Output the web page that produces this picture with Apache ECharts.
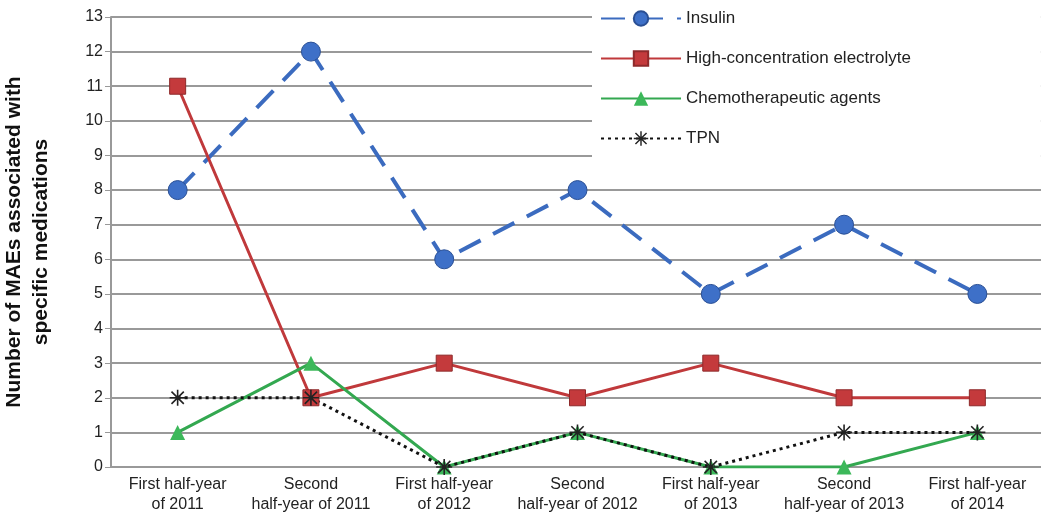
<!DOCTYPE html>
<html><head><meta charset="utf-8">
<script src="https://cdn.jsdelivr.net/npm/echarts@6/dist/echarts.min.js"></script>
<style>html,body{margin:0;padding:0;background:#fff}#c{width:1041px;height:529px}</style>
</head><body><div id="c"></div>
<script>
const categories = ['First half-year\nof 2011', 'Second\nhalf-year of 2011', 'First half-year\nof 2012', 'Second\nhalf-year of 2012', 'First half-year\nof 2013', 'Second\nhalf-year of 2013', 'First half-year\nof 2014']
const insulin = [8, 12, 6, 8, 5, 7, 5]
const electrolyte = [11, 2, 3, 2, 3, 2, 2]
const chemo = [1, 3, 0, 1, 0, 0, 1]
const tpn = [2, 2, 0, 1, 0, 1, 1]

const star = 'path://M-1,-10L1,-10L1,-2.4L7,-8.4L8.4,-7L2.4,-1L10,-1L10,1L2.4,1L8.4,7L7,8.4L1,2.4L1,10L-1,10L-1,2.4L-7,8.4L-8.4,7L-2.4,1L-10,1L-10,-1L-2.4,-1L-8.4,-7L-7,-8.4L-1,-2.4Z'

const chart = echarts.init(document.getElementById('c'))
chart.setOption({
  animation: false,
  textStyle: { fontFamily: 'Arial, Liberation Sans, sans-serif' },
  grid: { left: 111, right: -3, top: 17, bottom: 62, outerBoundsMode: 'none', containLabel: false },
  legend: {
    orient: 'vertical', left: 592, top: 0, itemWidth: 80, itemHeight: 18, itemGap: 23,
    backgroundColor: '#fff', padding: [10, 130, 12, 8],
    textStyle: { fontSize: 17, color: '#222' },
    data: ['Insulin', 'High-concentration electrolyte', 'Chemotherapeutic agents', 'TPN']
  },
  xAxis: {
    type: 'category', data: categories, boundaryGap: true,
    axisLine: { lineStyle: { color: '#999', width: 2 } }, axisTick: { show: false },
    axisLabel: { fontSize: 16, color: '#222', interval: 0, lineHeight: 20 }
  },
  yAxis: {
    type: 'value', min: 0, max: 13, interval: 1,
    name: 'Number of MAEs associated with\nspecific medications', nameLocation: 'middle', nameGap: 56,
    nameTextStyle: { fontSize: 21, fontWeight: 'bold', fontFamily: 'Liberation Sans', color: '#111', lineHeight: 27 },
    axisLine: { show: true, lineStyle: { color: '#999', width: 2 } }, axisTick: { show: true, length: 6, lineStyle: { color: '#999' } },
    axisLabel: { fontSize: 16, color: '#222' },
    splitLine: { lineStyle: { color: '#999', width: 2 } }
  },
  series: [
    { name: 'Insulin', type: 'line', data: insulin, symbol: 'circle', symbolSize: 19,
      lineStyle: { color: '#3b6bbf', width: 4, type: [24, 14] }, itemStyle: { color: '#3e70c8', borderColor: '#2a4f94', borderWidth: 1 } },
    { name: 'High-concentration electrolyte', type: 'line', data: electrolyte, symbol: 'rect', symbolSize: 16,
      lineStyle: { color: '#c0393b', width: 3 }, itemStyle: { color: '#c43a3c', borderColor: '#8e2a2b', borderWidth: 1 } },
    { name: 'Chemotherapeutic agents', type: 'line', data: chemo, symbol: 'triangle', symbolSize: 15,
      lineStyle: { color: '#33a850', width: 3 }, itemStyle: { color: '#3cb85a' } },
    { name: 'TPN', type: 'line', data: tpn, symbol: star, symbolSize: 16,
      lineStyle: { color: '#111', width: 3, type: [3, 4] }, itemStyle: { color: '#222' } }
  ]
})
</script></body></html>
